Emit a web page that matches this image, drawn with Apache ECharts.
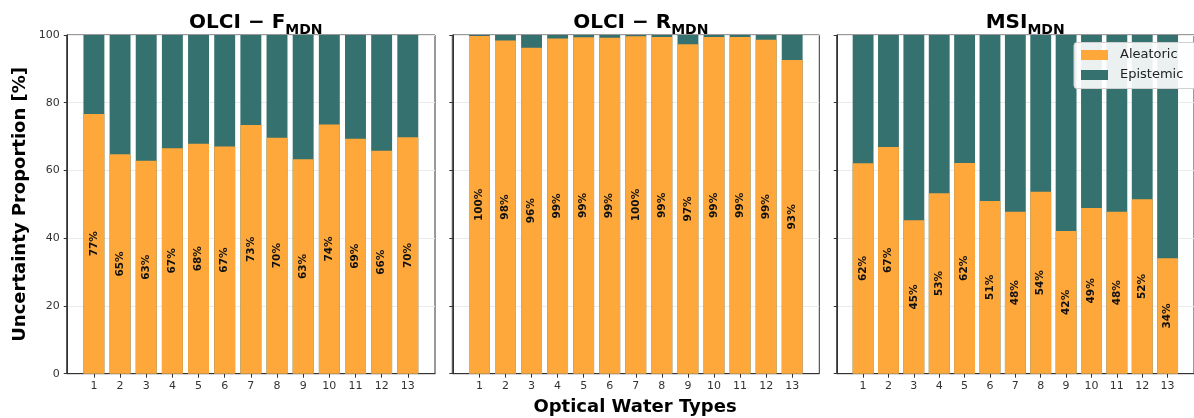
<!DOCTYPE html>
<html>
<head>
<meta charset="utf-8">
<script src="https://cdn.jsdelivr.net/npm/echarts@6/dist/echarts.min.js"></script>
<style>
html,body{margin:0;padding:0;background:#fff;}
#c{width:1194px;height:418px;}
</style>
</head>
<body>
<div id="c"></div>
<script>
// ---- data ----
const waterTypes = [1,2,3,4,5,6,7,8,9,10,11,12,13];
const olciF_aleatoric = [76.7, 64.8, 62.9, 66.6, 67.9, 67.1, 73.4, 69.7, 63.3, 73.6, 69.4, 65.8, 69.8];
const olciR_aleatoric = [99.7, 98.4, 96.2, 99.0, 99.3, 99.2, 99.6, 99.4, 97.3, 99.4, 99.4, 98.6, 92.6];
const msi_aleatoric   = [62.1, 66.9, 45.3, 53.3, 62.2, 51.0, 47.8, 53.7, 42.1, 48.9, 47.8, 51.5, 34.1];
const yTicks = [0, 20, 40, 60, 80, 100];
const panelTitles = [['OLCI − F','MDN'], ['OLCI − R','MDN'], ['MSI','MDN']];
const seriesNames = ['Aleatoric', 'Epistemic'];

// ---- layout ----
const FONT = 'DejaVu Sans';
const ORANGE = '#FEA83B';
const TEAL = '#34716F';
const panels = [
  {left: 66.7, width: 368.3},
  {left: 452.3, width: 367},
  {left: 836.7, width: 367}
];
const TOP = 35, HEIGHT = 338.7;
const XMIN = waterTypes[0] - 1.04, XMAX = waterTypes[waterTypes.length-1] + 1.04;
const datasets = [olciF_aleatoric, olciR_aleatoric, msi_aleatoric];

const grids = [], xAxes = [], yAxes = [], series = [], titles = [];
panels.forEach((p, i) => {
  grids.push({left: p.left, top: TOP, width: p.width, height: HEIGHT, show: true,
    borderColor: '#333', borderWidth: 1, backgroundColor: 'transparent'});
  xAxes.push({type: 'value', gridIndex: i, min: XMIN, max: XMAX,
    axisLine: {show: true, lineStyle: {color: '#333'}},
    axisTick: {show: true, length: 4, customValues: waterTypes, lineStyle: {color: '#333'}},
    axisLabel: {customValues: waterTypes, color: '#333', fontFamily: FONT, fontSize: 11, margin: 7},
    splitLine: {show: false}});
  yAxes.push({type: 'value', gridIndex: i, min: yTicks[0], max: yTicks[yTicks.length-1], interval: 20,
    axisLine: {show: true, lineStyle: {color: '#333'}},
    axisTick: {show: true, length: 4, lineStyle: {color: '#333'}},
    axisLabel: {show: i === 0, color: '#333', fontFamily: FONT, fontSize: 11, margin: 7},
    splitLine: {show: true, lineStyle: {color: '#ebebeb', width: 1}}});
  const bw = 0.8 * p.width / (XMAX - XMIN);
  const ale = datasets[i];
  // Epistemic share occupies the space from the aleatoric top up to 100%;
  // drawn as the full-height bar behind the aleatoric bar.
  series.push({name: seriesNames[1], type: 'bar', xAxisIndex: i, yAxisIndex: i,
    barWidth: bw, barGap: '-100%', itemStyle: {color: TEAL},
    data: waterTypes.map((w, k) => [w, ale[k] + (100 - ale[k])])});
  series.push({name: seriesNames[0], type: 'bar', xAxisIndex: i, yAxisIndex: i,
    barWidth: bw, barGap: '-100%', itemStyle: {color: ORANGE},
    data: waterTypes.map((w, k) => [w, ale[k]]),
    label: {show: true, position: 'inside', rotate: 90, color: '#111', fontFamily: FONT,
      fontWeight: 'bold', fontSize: 10.5,
      formatter: (d) => Math.round(d.value[1]) + '%'}});
  titles.push({text: '{a|' + panelTitles[i][0] + '}{b|' + panelTitles[i][1] + '}',
    left: p.left + p.width / 2, top: 4, textAlign: 'center',
    textStyle: {rich: {
      a: {fontFamily: FONT, fontWeight: 'bold', fontSize: 20, color: '#000', lineHeight: 28},
      b: {fontFamily: FONT, fontWeight: 'bold', fontSize: 14, color: '#000', lineHeight: 28, verticalAlign: 'bottom', padding: [8, 0, 0, 0]}
    }}});
});

const chart = echarts.init(document.getElementById('c'), null, {renderer: 'canvas'});
chart.setOption({
  animation: false,
  backgroundColor: '#fff',
  title: titles,
  grid: grids,
  xAxis: xAxes,
  yAxis: yAxes,
  series: series,
  legend: {data: seriesNames, left: 1074, top: 42.5, orient: 'vertical',
    icon: 'rect', itemWidth: 27, itemHeight: 10, itemGap: 5,
    backgroundColor: 'rgba(255,255,255,0.9)', borderColor: '#d0d0d0', borderWidth: 1, borderRadius: 3,
    padding: [5, 30, 6, 7],
    textStyle: {fontFamily: FONT, fontSize: 13, color: '#222', padding: [0, 0, 0, 7], lineHeight: 15}},
  graphic: [
    {type: 'text', x: 20, y: TOP + HEIGHT / 2, rotation: Math.PI / 2,
      style: {text: 'Uncertainty Proportion [%]', fontFamily: FONT, fontWeight: 'bold', fontSize: 18,
        fill: '#000', align: 'center', verticalAlign: 'middle'}},
    {type: 'text', x: 635, y: 407,
      style: {text: 'Optical Water Types', fontFamily: FONT, fontWeight: 'bold', fontSize: 18,
        fill: '#000', align: 'center', verticalAlign: 'middle'}}
  ]
});
</script>
</body>
</html>
